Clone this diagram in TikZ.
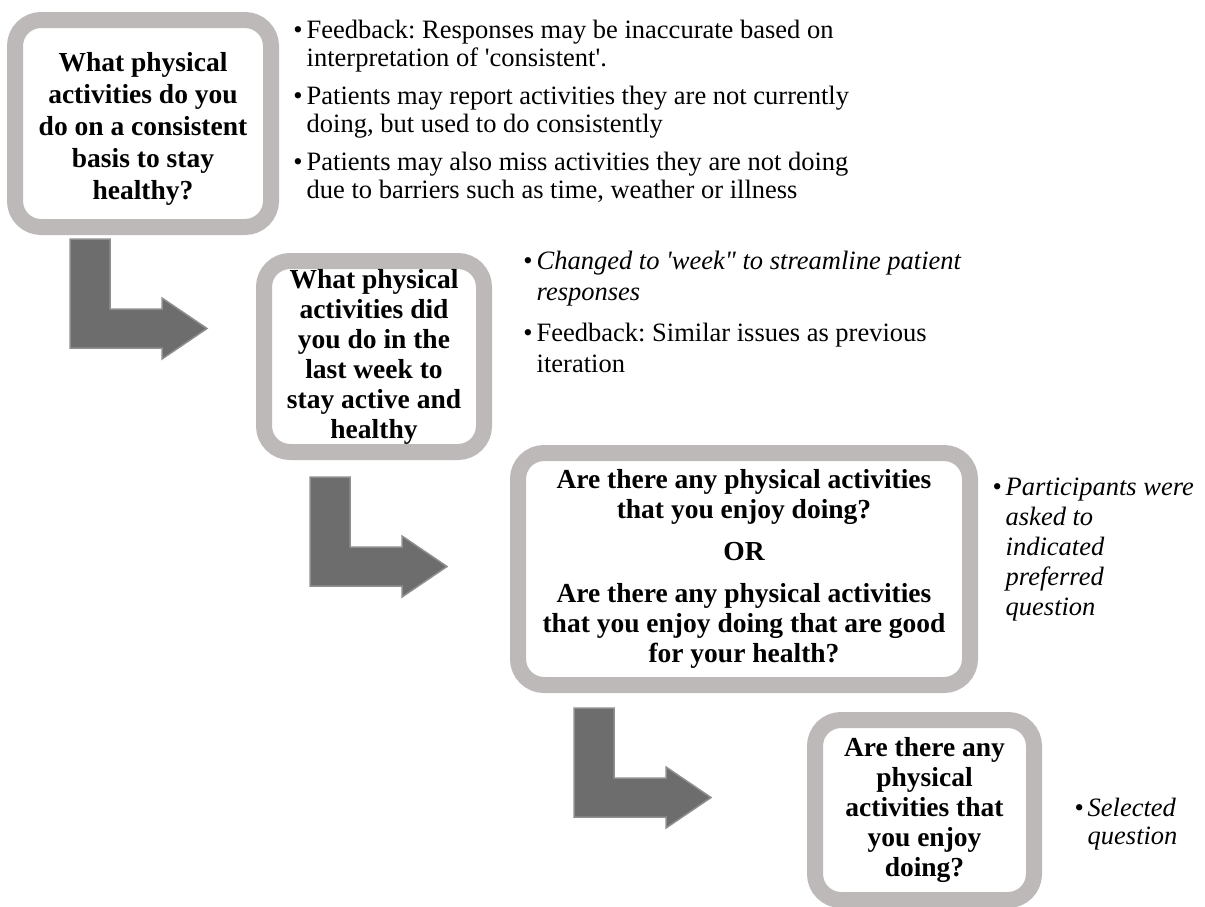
\documentclass[tikz,border=0pt]{standalone}
\usepackage{fontspec}
\setmainfont{Liberation Serif}
\usetikzlibrary{positioning}
\frenchspacing
\definecolor{framegray}{RGB}{189,185,184}
\definecolor{arrowfill}{RGB}{109,109,109}
\definecolor{arrowedge}{RGB}{143,143,143}
\newcommand{\itm}{\textbullet\hspace{2pt}}
\newcommand{\cnt}{\phantom{\textbullet}\hspace{2pt}}
\tikzset{
	qbox/.style={
		rectangle,
		rounded corners=13pt,
		draw=framegray, line width=8pt,
		fill=white,
		align=center,
		inner sep=0pt,
		font=\fontsize{13.75}{15}\selectfont\bfseries},
	note/.style={anchor=north west, align=left, inner sep=0pt,
		font=\fontsize{13.25}{14}\selectfont},
	bentarrow/.pic={
		\draw[arrowedge, fill=arrowfill, line width=0.75pt]
			(0,0) -- (40,0) -- (40,70) -- (92,70) -- (92,59) -- (137,89.5)
			-- (92,120) -- (92,109) -- (0,109) -- cycle;
	},
}
\begin{document}
\begin{tikzpicture}[x=0.5pt, y=-0.5pt]
	\useasboundingbox (0,0) rectangle (1205,906);

	% the four versions of the question
	\node[qbox, minimum width=128pt, minimum height=103.5pt,
		font=\fontsize{13.75}{16}\selectfont\bfseries] (q1) at (143,123.5)
		{\rule{0pt}{14.5pt}What physical\\activities do you\\do on a consistent\\basis to stay\\healthy?};
	\node[qbox, minimum width=110pt, minimum height=95.5pt] (q2) at (374,356.5)
		{What physical\\activities did\\you do in the\\last week to\\stay active and\\healthy};
	\node[qbox, minimum width=226pt, minimum height=116pt] (q3) at (744,569)
		{Are there any physical activities\\that you enjoy doing?\\[6pt]OR\\[6pt]%
		Are there any physical activities\\that you enjoy doing that are good\\for your health?};
	\node[qbox, minimum width=109.5pt, minimum height=90pt] (q4) at (924.5,810)
		{Are there any\\physical\\activities that\\you enjoy\\doing?};

	% bent arrows between the steps
	\pic at (70,239) {bentarrow};
	\pic at (310,477) {bentarrow};
	\pic at (574,708) {bentarrow};

	% comments next to each box
	\node[note] (c1) at (293,20)
		{\itm Feedback: Responses may be inaccurate based on\\
		\cnt interpretation of \textquotesingle consistent\textquotesingle.\\[5pt]
		\itm Patients may report activities they are not currently\\
		\cnt doing, but used to do consistently\\[5pt]
		\itm Patients may also miss activities they are not doing\\
		\cnt due to barriers such as time, weather or illness};
	\node[note, font=\fontsize{13.25}{15.5}\selectfont] (c2) at (523,251)
		{\itm\textit{Changed to \textquotesingle week\textquotedbl{} to streamline patient}\\
		\cnt\textit{responses}\\[5pt]
		\itm Feedback: Similar issues as previous\\
		\cnt iteration};
	\node[note, font=\fontsize{13.25}{15}\selectfont\itshape] (c3) at (992,478)
		{\itm Participants were\\\cnt asked to\\\cnt indicated\\\cnt preferred\\\cnt question};
	\node[note, font=\fontsize{13.25}{14}\selectfont\itshape] (c4) at (1074,798)
		{\itm Selected\\\cnt question};
\end{tikzpicture}
\end{document}
